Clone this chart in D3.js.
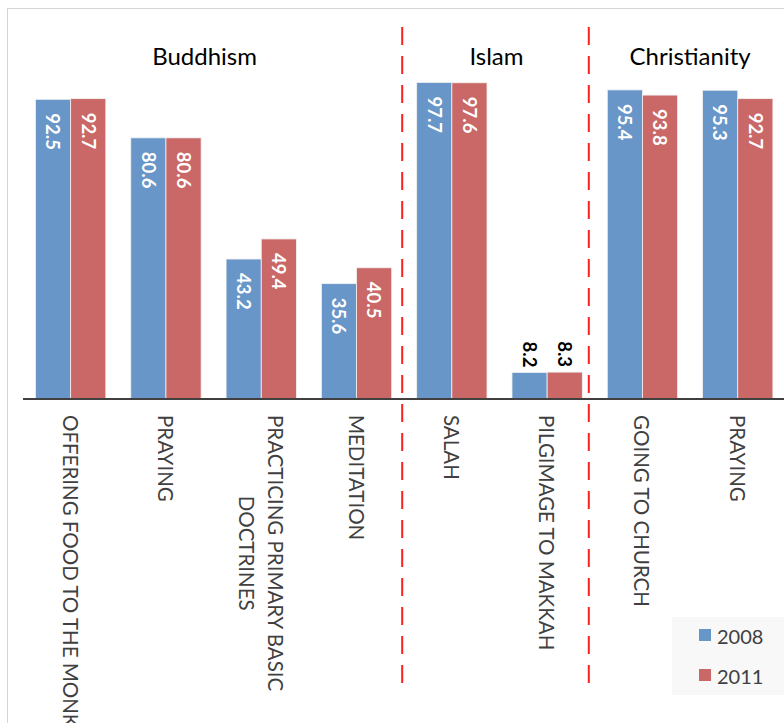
<!DOCTYPE html>
<html>
<head>
<meta charset="utf-8">
<script src="https://cdn.jsdelivr.net/npm/d3@7"></script>
<style>
  body { margin: 0; background: #fff; }
  svg { display: block; font-family: Lato, "Open Sans", sans-serif; }
</style>
</head>
<body>
<svg id="chart" width="784" height="723"></svg>
<script>
// data
const categoryLines = [
  ["OFFERING FOOD TO THE MONK"],
  ["PRAYING"],
  ["PRACTICING PRIMARY BASIC", "DOCTRINES"],
  ["MEDITATION"],
  ["SALAH"],
  ["PILGIMAGE TO MAKKAH"],
  ["GOING TO CHURCH"],
  ["PRAYING"]
];
const values2008 = [92.5, 80.6, 43.2, 35.6, 97.7, 8.2, 95.4, 95.3];
const values2011 = [92.7, 80.6, 49.4, 40.5, 97.6, 8.3, 93.8, 92.7];
const seriesNames = ["2008", "2011"];
const groupNames = ["Buddhism", "Islam", "Christianity"];
const groupFirst = [0, 4, 6];
const groupLast = [3, 5, 7];

const colors = ["#6996c8", "#c96866"];
const width = 784, height = 723;
const baseline = 399;

const svg = d3.select("#chart");

// chart border (cut off at right / bottom)
svg.append("rect")
  .attr("x", 7.5).attr("y", 8.5)
  .attr("width", width + 10).attr("height", height + 10)
  .attr("fill", "none").attr("stroke", "#d4d4d4").attr("stroke-width", 1);

const idx = d3.range(categoryLines.length);
const x = d3.scaleBand()
  .domain(idx)
  .range([23, 785.4])
  .paddingInner(0.262)
  .paddingOuter(0.131);

const x1 = d3.scaleBand()
  .domain(d3.range(seriesNames.length))
  .range([0, x.bandwidth()]);

const y = d3.scaleLinear().domain([0, 100]).range([baseline, baseline - 324]);

const rows = idx.map(i => [values2008[i], values2011[i]]);

// bars
const cat = svg.append("g").selectAll("g")
  .data(rows)
  .join("g")
  .attr("transform", (d, i) => `translate(${x(i)},0)`);

cat.selectAll("rect")
  .data(d => d)
  .join("rect")
  .attr("x", (d, j) => x1(j))
  .attr("y", d => y(d))
  .attr("width", x1.bandwidth())
  .attr("height", d => y(0) - y(d))
  .attr("fill", (d, j) => colors[j])
  .attr("stroke", "#f2f2f2")
  .attr("stroke-width", 0.8);

// value labels, rotated
cat.selectAll("text.val")
  .data(d => d)
  .join("text")
  .attr("class", "val")
  .attr("transform", (d, j) => {
    const cx = x1(j) + x1.bandwidth() / 2;
    const inside = d > 15;
    const ty = inside ? y(d) + 14 : y(d) - 5;
    return `translate(${cx},${ty}) rotate(90)`;
  })
  .attr("text-anchor", d => d > 15 ? "start" : "end")
  .attr("dy", "0.36em")
  .attr("font-size", 18.5)
  .attr("font-weight", "bold")
  .attr("fill", d => d > 15 ? "#ffffff" : "#000000")
  .text(d => d3.format(".1f")(d));

// axis line
svg.append("line")
  .attr("x1", 23).attr("x2", width)
  .attr("y1", baseline).attr("y2", baseline)
  .attr("stroke", "#404040").attr("stroke-width", 2);

// category labels, rotated 90deg, multi-line centred
const lineGap = 29;
const labels = svg.append("g").selectAll("text")
  .data(categoryLines)
  .join("text")
  .attr("font-size", 20.5)
  .attr("fill", "#404040")
  .attr("text-anchor", "middle");

labels.each(function(lines, i) {
  const t = d3.select(this);
  lines.forEach((ln, k) => {
    t.append("tspan").attr("x", 0).attr("dy", k === 0 ? 0 : lineGap).text(ln);
  });
  const maxLen = d3.max(t.selectAll("tspan").nodes(), n => n.getComputedTextLength());
  const cx = x(i) + x.bandwidth() / 2 + (lines.length - 1) * lineGap / 2;
  t.attr("transform", `translate(${cx},${415 + maxLen / 2}) rotate(90)`)
    .attr("dominant-baseline", "central");
  t.selectAll("tspan").attr("dominant-baseline", "central");
});

// group dividers
const dividerShift = [-2, -6];
[4, 6].forEach((i, k) => {
  const dx = x(i) - x.step() * x.paddingInner() / 2 + dividerShift[k];
  svg.append("line")
    .attr("x1", dx).attr("x2", dx)
    .attr("y1", 27).attr("y2", 692)
    .attr("stroke", "#ff1f1f").attr("stroke-width", 2)
    .attr("stroke-dasharray", "18,11");
});

// group titles
const titleShift = [-9, -3, 0];
svg.append("g").selectAll("text")
  .data(groupNames)
  .join("text")
  .attr("x", (d, k) => (x(groupFirst[k]) + x(groupLast[k]) + x.bandwidth()) / 2 + titleShift[k])
  .attr("y", 65)
  .attr("text-anchor", "middle")
  .attr("font-size", 24)
  .attr("fill", "#000")
  .text(d => d);

// legend
const legend = svg.append("g");
legend.append("rect")
  .attr("x", 672).attr("y", 617)
  .attr("width", 120).attr("height", 78)
  .attr("fill", "#f8f8f8");
const item = legend.selectAll("g.item")
  .data(seriesNames)
  .join("g")
  .attr("class", "item")
  .attr("transform", (d, j) => `translate(699,${629 + j * 40})`);
item.append("rect")
  .attr("width", 12).attr("height", 12)
  .attr("fill", (d, j) => colors[j]);
item.append("text")
  .attr("x", 18).attr("y", 15)
  .attr("font-size", 20)
  .attr("fill", "#404040")
  .text(d => d);
</script>
</body>
</html>
